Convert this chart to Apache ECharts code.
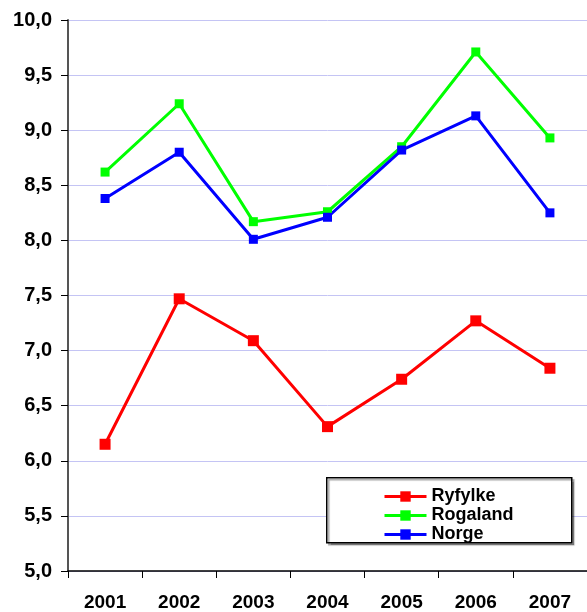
<!DOCTYPE html>
<html>
<head>
<meta charset="utf-8">
<script src="https://cdn.jsdelivr.net/npm/echarts@6/dist/echarts.min.js"></script>
<style>
    html,body{margin:0;padding:0;background:#fff;}
    #chart{width:587px;height:612px;}
</style>
</head>
<body>
<div id="chart"></div>
<script>
    // data
    var years = ['2001', '2002', '2003', '2004', '2005', '2006', '2007'];
    var ryfylke = [6.15, 7.47, 7.09, 6.31, 6.74, 7.27, 6.84];
    var rogaland = [8.62, 9.24, 8.17, 8.26, 8.85, 9.71, 8.93];
    var norge = [8.38, 8.80, 8.01, 8.21, 8.82, 9.13, 8.25];
    var seriesNames = ['Ryfylke', 'Rogaland', 'Norge'];
    var colorList = ['#ff0000', '#00ff00', '#0000ff'];
    var symbolSizes = [11, 9, 9];

    var font = '"Liberation Sans", Arial, sans-serif';
    var allData = [ryfylke, rogaland, norge];

    var series = [];
    for (var i = 0; i < allData.length; i++) {
        series.push({
            name: seriesNames[i],
            type: 'line',
            data: allData[i],
            color: colorList[i],
            symbol: 'rect',
            symbolSize: symbolSizes[i],
            lineStyle: {width: 3, color: colorList[i]},
            itemStyle: {color: colorList[i]},
            animation: false
        });
    }

    var option = {
        animation: false,
        grid: {left: 68, top: 20, width: 525, height: 552},
        graphic: [{
            type: 'rect',
            left: 326, top: 477,
            shape: {width: 245, height: 65},
            style: {fill: '#fff', stroke: '#000', lineWidth: 1.5,
                shadowColor: 'rgba(0,0,0,0.35)', shadowOffsetX: 2, shadowOffsetY: 2, shadowBlur: 1},
            z: 10
        }],
        legend: {
            data: seriesNames,
            orient: 'vertical',
            left: 378,
            top: 482,
            itemWidth: 42,
            itemHeight: 13,
            itemGap: 0,
            z: 20,
            lineStyle: {width: 3},
            textStyle: {fontFamily: font, fontWeight: 'bold', fontSize: 18, color: '#000', lineHeight: 19}
        },
        xAxis: {
            type: 'category',
            data: years,
            boundaryGap: true,
            axisLine: {lineStyle: {color: '#000', width: 1.5}},
            axisTick: {show: true, length: 7, lineStyle: {color: '#000'}},
            axisLabel: {margin: 22, fontFamily: font, fontWeight: 'bold', fontSize: 19, color: '#000'},
            splitLine: {show: false}
        },
        yAxis: {
            type: 'value',
            min: 5,
            max: 10,
            interval: 0.5,
            axisLine: {show: true, lineStyle: {color: '#555', width: 2}},
            axisTick: {show: true, length: 7, lineStyle: {color: '#000'}},
            axisLabel: {
                margin: 16, fontFamily: font, fontWeight: 'bold', fontSize: 20, color: '#000',
                formatter: function (v) { return v.toFixed(1).replace('.', ','); }
            },
            splitLine: {show: true, lineStyle: {color: '#c4c4f4', width: 1}}
        },
        series: series
    };

    var myChart = echarts.init(document.getElementById('chart'));
    myChart.setOption(option);
</script>
</body>
</html>
